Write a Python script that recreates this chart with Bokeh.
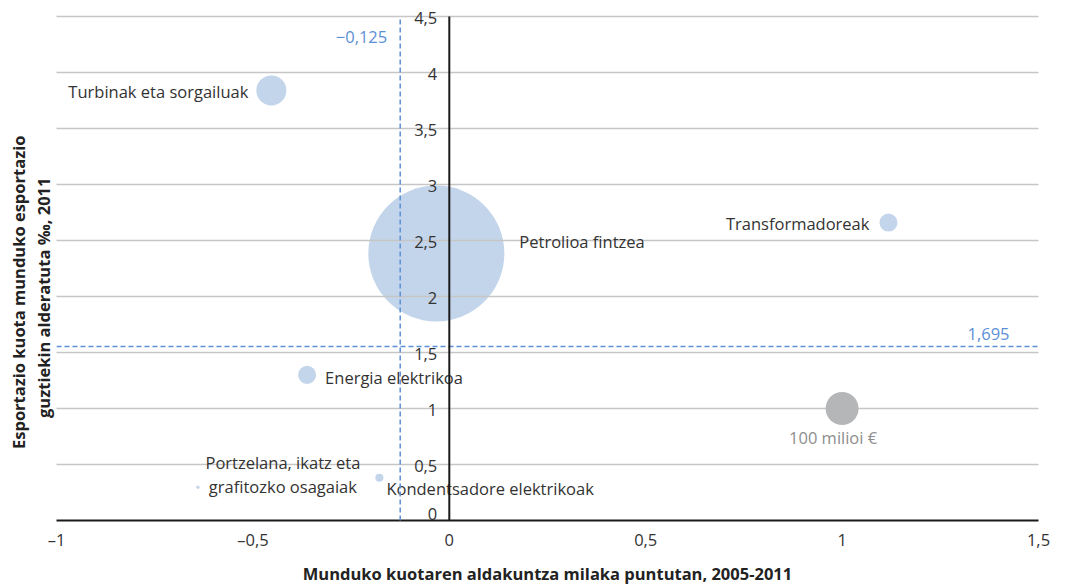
import math
from bokeh.plotting import figure
from bokeh.models import ColumnDataSource, FixedTicker, Span, Label, Title
from bokeh.embed import file_html
from bokeh.resources import INLINE

# ---------------- data ----------------
categories = [
    "Turbinak eta sorgailuak",
    "Petrolioa fintzea",
    "Transformadoreak",
    "Energia elektrikoa",
    "Kondentsadore elektrikoak",
    "Portzelana, ikatz eta\ngrafitozko osagaiak",
]
quota_change = [-0.453, -0.033, 1.118, -0.362, -0.178, -0.640]   # x
export_share = [3.84, 2.384, 2.66, 1.30, 0.381, 0.297]           # y
export_value = [83, 1700, 30, 30, 6, 1]                           # milioi €

legend_value = [100]
legend_x = [1.0]
legend_y = [1.0]
legend_text = "100 milioi €"

mean_x = -0.125
mean_x_label = "\u22120,125"
mean_y = 1.554
mean_y_label = "1,695"

x_ticks = [-1, -0.5, 0, 0.5, 1, 1.5]
x_tick_labels = ["\u20131", "\u20130,5", "0", "0,5", "1", "1,5"]
y_ticks = [0, 0.5, 1, 1.5, 2, 2.5, 3, 3.5, 4, 4.5]
y_tick_labels = ["0", "0,5", "1", "1,5", "2", "2,5", "3", "3,5", "4", "4,5"]

x_title = "Munduko kuotaren aldakuntza milaka puntutan, 2005-2011"
y_title = ["Esportazio kuota munduko esportazio", "guztiekin alderatuta \u2030, 2011"]

# ---------------- style ----------------
FONT = "Open Sans"
FS = "16.5px"
TXT = "#333333"
BUBBLE = "#c3d5ea"
LEG_BUBBLE = "#b4b6b8"
BLUE = "#5b8fd6"
GRID = "#c6c6c6"
REF_R = 16.5  # px radius of the 100 milioi € bubble

def diam(v):
    return 2 * REF_R * math.sqrt(v / legend_value[0])

label_style = {
    "Turbinak eta sorgailuak": dict(dx=-23, dy=1, align="right"),
    "Petrolioa fintzea": dict(dx=83, dy=-12, align="left"),
    "Transformadoreak": dict(dx=-19, dy=1, align="right"),
    "Energia elektrikoa": dict(dx=18, dy=3, align="left"),
    "Kondentsadore elektrikoak": dict(dx=7, dy=11, align="left"),
    "Portzelana, ikatz eta\ngrafitozko osagaiak": dict(dx=85, dy=-13, align="center"),
}

top_pad = 8 / 112.0
p = figure(width=1066, height=587, x_range=(-1, 1.5), y_range=(0, y_ticks[-1] + top_pad),
           output_backend="svg", toolbar_location=None, y_axis_location=None,
           min_border_left=56, min_border_right=28, min_border_top=8, min_border_bottom=67)
p.outline_line_color = None
p.background_fill_color = "white"
p.border_fill_color = "white"

# grid
p.xgrid.grid_line_color = None
p.ygrid.ticker = FixedTicker(ticks=y_ticks)
p.ygrid.grid_line_color = GRID
p.ygrid.grid_line_width = 1.5
p.ygrid.level = "guide"

# bubbles
src = ColumnDataSource(dict(
    x=quota_change, y=export_share, size=[diam(v) for v in export_value],
))
p.scatter("x", "y", size="size", source=src, fill_color=BUBBLE, line_color=None)

p.scatter(legend_x, legend_y, size=[diam(v) for v in legend_value],
          fill_color=LEG_BUBBLE, line_color=None, level="overlay")

# reference lines
p.segment(x0=[mean_x], y0=[y_ticks[0]], x1=[mean_x], y1=[y_ticks[-1]], line_color=BLUE,
          line_width=1.5, line_dash="5 3", level="overlay")
p.add_layout(Span(location=mean_y, dimension="width", line_color=BLUE,
                  line_width=1.5, line_dash="5 3"))
p.add_layout(Label(x=mean_x, y=y_ticks[-1], text=mean_x_label, x_offset=-13, y_offset=-20,
                   text_align="right", text_baseline="middle", text_color=BLUE,
                   text_font=FONT, text_font_size=FS))
p.add_layout(Label(x=x_ticks[-1], y=mean_y, text=mean_y_label, x_offset=-29, y_offset=12,
                   text_align="right", text_baseline="middle", text_color=BLUE,
                   text_font=FONT, text_font_size=FS))

# vertical axis line at x=0
p.segment(x0=[0], y0=[y_ticks[0]], x1=[0], y1=[y_ticks[-1]], line_color="#1a1a1a",
          line_width=2, level="overlay")

# y tick labels next to x=0 axis
for yv, yl in zip(y_ticks, y_tick_labels):
    base = "bottom" if yv == y_ticks[0] else "middle"
    p.add_layout(Label(x=0, y=yv, text=yl, x_offset=-12, y_offset=(1 if base == "bottom" else -1),
                       text_align="right", text_baseline=base, text_color=TXT,
                       text_font=FONT, text_font_size=FS))

# bubble labels
for c, xv, yv in zip(categories, quota_change, export_share):
    st = label_style[c]
    p.add_layout(Label(x=xv, y=yv, text=c, x_offset=st["dx"], y_offset=-st["dy"],
                       text_align=st["align"], text_baseline="middle", text_color=TXT,
                       text_font=FONT, text_font_size=FS, text_line_height=1.05))

p.add_layout(Label(x=legend_x[0], y=legend_y[0], text=legend_text, x_offset=-9, y_offset=-29,
                   text_align="center", text_baseline="middle", text_color="#8e8e8e",
                   text_font=FONT, text_font_size=FS))

# x axis
ax = p.xaxis[0]
ax.ticker = FixedTicker(ticks=x_ticks)
ax.major_label_overrides = {t: l for t, l in zip(x_ticks, x_tick_labels)}
ax.axis_line_color = "#1a1a1a"
ax.axis_line_width = 2
ax.major_tick_line_color = None
ax.minor_tick_line_color = None
ax.major_tick_out = 0
ax.major_tick_in = 0
ax.minor_tick_out = 0
ax.major_label_standoff = 7
ax.major_label_text_font = FONT
ax.major_label_text_font_size = FS
ax.major_label_text_color = TXT
ax.axis_label = x_title
ax.axis_label_text_font = FONT
ax.axis_label_text_font_style = "bold"
ax.axis_label_text_font_size = FS
ax.axis_label_text_color = "#222222"
ax.axis_label_standoff = 8

# y axis title: two rotated lines left of the frame, centred a little below mid-frame
frame_bottom_off = 235          # px from frame bottom to the title centre
est_len = {y_title[0]: 327, y_title[1]: 265}
for line, va, so in [(y_title[1], "top", 0), (y_title[0], "bottom", 4)]:
    p.add_layout(Title(text=line, align="left", vertical_align=va,
                       offset=frame_bottom_off - est_len[line] / 2, standoff=so,
                       text_font=FONT, text_font_style="bold", text_font_size=FS,
                       text_color="#222222"), "left")

open("out.html", "w").write(file_html(p, INLINE))
